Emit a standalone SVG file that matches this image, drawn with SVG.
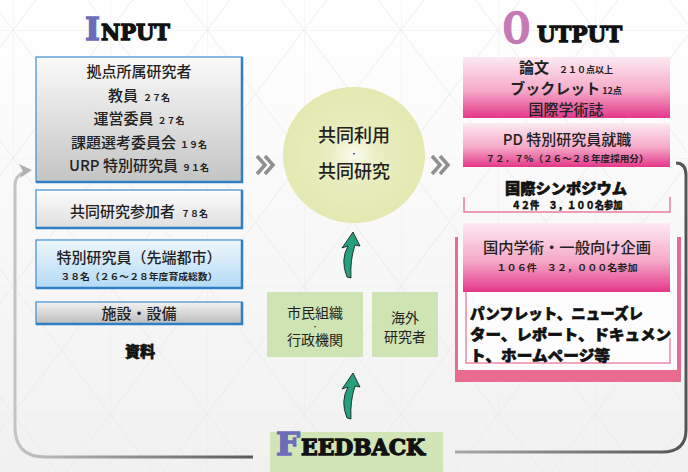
<svg xmlns="http://www.w3.org/2000/svg" width="688" height="472" viewBox="0 0 688 472">
<defs>
  <linearGradient id="bg" x1="0" y1="0" x2="0" y2="1">
    <stop offset="0" stop-color="#ffffff"/>
    <stop offset="1" stop-color="#f1f1f1"/>
  </linearGradient>
  <pattern id="grid" x="13" y="30" width="97" height="128" patternUnits="userSpaceOnUse">
    <path d="M0,0 V128 M0,0 H97 M0,0 L97,128 M0,128 L97,0" stroke="#e6e6e6" stroke-width="0.7" fill="none"/>
  </pattern>
  <linearGradient id="gGray" x1="0" y1="0" x2="0" y2="1">
    <stop offset="0" stop-color="#fafafa"/>
    <stop offset="1" stop-color="#c4c4c4"/>
  </linearGradient>
  <linearGradient id="gLight" x1="0" y1="0" x2="0" y2="1">
    <stop offset="0" stop-color="#fdfdfd"/>
    <stop offset="1" stop-color="#dedede"/>
  </linearGradient>
  <linearGradient id="gBlue" x1="0" y1="0" x2="0" y2="1">
    <stop offset="0" stop-color="#eef7fd"/>
    <stop offset="1" stop-color="#b3daf3"/>
  </linearGradient>
  <linearGradient id="gGray2" x1="0" y1="0" x2="0" y2="1">
    <stop offset="0" stop-color="#f2f2f2"/>
    <stop offset="1" stop-color="#bdbdbd"/>
  </linearGradient>
  <linearGradient id="gPink" x1="0" y1="0" x2="0" y2="1">
    <stop offset="0" stop-color="#fdeaf2"/>
    <stop offset="0.55" stop-color="#f5a9c8"/>
    <stop offset="1" stop-color="#e4378a"/>
  </linearGradient>
  <radialGradient id="gCircle" cx="0.5" cy="0.5" r="0.5">
    <stop offset="0" stop-color="#fbfbee"/>
    <stop offset="0.35" stop-color="#e9edc0"/>
    <stop offset="1" stop-color="#e3e9b0"/>
  </radialGradient>
  <linearGradient id="gLoopL" x1="0" y1="0" x2="1" y2="0">
    <stop offset="0" stop-color="#c4c4c4"/>
    <stop offset="1" stop-color="#5a5a5a"/>
  </linearGradient>
  <linearGradient id="gLoopR" x1="0" y1="0" x2="1" y2="0">
    <stop offset="0" stop-color="#a9a9a9"/>
    <stop offset="1" stop-color="#555555"/>
  </linearGradient>
  <path id="garrow" d="M15,0 L22,14 L17,13 Q12,28 13,46 L9,45 Q2,28 10,14 L4,16 Z"/>
  <path id="chev" d="M0,0 L8,9 L0,18 M8,0 L16,9 L8,18" fill="none" stroke="#8f8f8f" stroke-width="3.5"/>
  <style>
    .jp { font-family: "Noto Sans CJK JP", "Noto Sans", sans-serif; fill: #222; }
    .b15 { font-size: 15px; font-weight: 500; }
    .sm { font-size: 9px; font-weight: 700; }
    .heavy { font-family: "Noto Sans CJK JP", sans-serif; font-weight: 900; fill: #111; stroke: #111; stroke-width: 0.6; }
    .ttl { font-family: "DejaVu Serif", "Liberation Serif", serif; font-weight: 900; fill: #111; stroke: #111; stroke-width: 1.3; }
    .inb { stroke: #3b8fd2; stroke-width: 1.2; }
  </style>
</defs>

<rect width="688" height="472" fill="url(#bg)"/>
<rect width="688" height="472" fill="url(#grid)"/>

<!-- titles -->
<g id="title-input">
  <text class="ttl" x="85" y="40" font-size="32" style="fill:#6b6db8;stroke:#6b6db8" textLength="15" lengthAdjust="spacingAndGlyphs">I</text>
  <text class="ttl" x="101" y="40" font-size="22" textLength="69" lengthAdjust="spacingAndGlyphs">NPUT</text>
</g>
<g id="title-output">
  <text class="ttl" x="503" y="43" font-size="42" style="fill:#c679b6;stroke:#c679b6" textLength="27" lengthAdjust="spacingAndGlyphs">O</text>
  <text class="ttl" x="537" y="42" font-size="22" textLength="85" lengthAdjust="spacingAndGlyphs">UTPUT</text>
</g>

<!-- connectors -->
<g id="connectors">
  <path d="M253,457 L45,457 Q15,457 15,427 L15,185 Q15,176 24,172" fill="none" stroke="url(#gLoopL)" stroke-width="3"/>
  <path d="M19,164 L32,170 L20,178 L23,171 Z" fill="#b0b0b0"/>
  <path d="M455,452 L662,452 Q686,452 686,430 L686,175 Q686,163 676,163" fill="none" stroke="url(#gLoopR)" stroke-width="3"/>
  <use href="#chev" x="257" y="156"/>
  <use href="#chev" x="432" y="156"/>
  <g fill="#25a07c" stroke="#111" stroke-width="0.8">
    <use href="#garrow" x="338" y="232"/>
    <use href="#garrow" x="338" y="373"/>
  </g>
</g>

<!-- INPUT nodes -->
<g id="input-researchers">
  <rect class="inb" x="36" y="57" width="206" height="125" fill="url(#gGray)"/>
  <path d="M36,182 H242 V57" fill="none" stroke="#2f7fc4" stroke-width="2.5"/>
  <text class="jp b15" x="139" y="77" text-anchor="middle">拠点所属研究者</text>
  <text class="jp b15" x="139" y="101" text-anchor="middle">教員<tspan class="sm" dx="5">２７名</tspan></text>
  <text class="jp b15" x="139" y="124" text-anchor="middle">運営委員<tspan class="sm" dx="4">２７名</tspan></text>
  <text class="jp b15" x="139" y="148" text-anchor="middle">課題選考委員会<tspan class="sm" dx="4">１９名</tspan></text>
  <text class="jp b15" x="139" y="171" text-anchor="middle">URP 特別研究員<tspan class="sm" dx="4">９１名</tspan></text>
</g>
<g id="input-participants">
  <rect class="inb" x="36" y="190" width="206" height="38" fill="url(#gLight)"/>
  <path d="M36,228 H242 V190" fill="none" stroke="#2f7fc4" stroke-width="2.5"/>
  <text class="jp b15" x="139" y="217" text-anchor="middle">共同研究参加者<tspan class="sm" dx="6">７８名</tspan></text>
</g>
<g id="input-special">
  <rect class="inb" x="36" y="240" width="206" height="48" fill="url(#gBlue)"/>
  <path d="M36,288 H242 V240" fill="none" stroke="#2f7fc4" stroke-width="2.5"/>
  <text class="jp b15" x="139" y="263" text-anchor="middle">特別研究員（先端都市）</text>
  <text class="jp sm" x="139" y="280" text-anchor="middle" textLength="157" lengthAdjust="spacingAndGlyphs">３８名（２６～２８年度育成総数）</text>
</g>
<g id="input-facilities">
  <rect class="inb" x="36" y="302" width="206" height="22" fill="url(#gGray2)"/>
  <path d="M36,324 H242 V302" fill="none" stroke="#2f7fc4" stroke-width="2.5"/>
  <text class="jp b15" x="139" y="319" text-anchor="middle">施設・設備</text>
</g>
<g id="input-materials">
  <text class="heavy" x="140" y="357" font-size="15" text-anchor="middle">資料</text>
</g>

<!-- center -->
<g id="center">
  <ellipse cx="354" cy="155" rx="71" ry="68" fill="url(#gCircle)"/>
  <text class="jp" x="354" y="142" font-size="18" font-weight="500" text-anchor="middle">共同利用</text>
  <text class="jp" x="354" y="156" font-size="6" font-weight="900" text-anchor="middle">・</text>
  <text class="jp" x="354" y="178" font-size="18" font-weight="500" text-anchor="middle">共同研究</text>
</g>

<g id="citizens">
  <rect x="267" y="292" width="96" height="65" fill="#cfe4b3"/>
  <text class="jp" x="315" y="318" font-size="14" text-anchor="middle">市民組織</text>
  <text class="jp" x="315" y="328" font-size="5" font-weight="900" text-anchor="middle">・</text>
  <text class="jp" x="315" y="345" font-size="14" text-anchor="middle">行政機関</text>
</g>
<g id="overseas">
  <rect x="372" y="292" width="66" height="65" fill="#cfe4b3"/>
  <text class="jp" x="405" y="323" font-size="14" text-anchor="middle">海外</text>
  <text class="jp" x="405" y="342" font-size="14" text-anchor="middle">研究者</text>
</g>
<g id="feedback">
  <rect x="270" y="432" width="173" height="40" fill="#d1e5b6"/>
  <text class="ttl" x="276" y="455" font-size="32" style="fill:#6b6db8;stroke:#6b6db8" textLength="24" lengthAdjust="spacingAndGlyphs">F</text>
  <text class="ttl" x="301" y="455" font-size="22" textLength="124" lengthAdjust="spacingAndGlyphs">EEDBACK</text>
</g>

<!-- OUTPUT nodes -->
<g id="output-papers">
  <rect x="463" y="57" width="207" height="61" fill="url(#gPink)"/>
  <text class="jp" x="566" y="73" font-size="15" font-weight="700" text-anchor="middle">論文<tspan class="sm" dx="10">２１０点以上</tspan></text>
  <text class="jp" x="566" y="94" font-size="15" font-weight="700" text-anchor="middle">ブックレット<tspan class="sm" dx="2">12点</tspan></text>
  <text class="jp" x="566" y="115" font-size="15" font-weight="500" text-anchor="middle">国際学術誌</text>
</g>
<g id="output-pd">
  <rect x="463" y="123" width="207" height="44" fill="url(#gPink)"/>
  <text class="jp" x="567" y="145" font-size="15" font-weight="500" text-anchor="middle">PD 特別研究員就職</text>
  <text class="jp sm" x="567" y="162" text-anchor="middle" textLength="163" lengthAdjust="spacingAndGlyphs">７２．７％（２６～２８年度採用分）</text>
</g>
<g id="output-symposium">
  <path d="M464,197 V212 H670 V197" fill="none" stroke="#e97d9e" stroke-width="1.5"/>
  <text class="heavy" x="566" y="194" font-size="15" text-anchor="middle" textLength="122" lengthAdjust="spacingAndGlyphs">国際シンポジウム</text>
  <text class="heavy" x="567" y="209" font-size="10" text-anchor="middle" textLength="111" lengthAdjust="spacingAndGlyphs" style="stroke-width:0.3">４２件　３，１００名参加</text>
</g>
<g id="output-domestic">
  <rect x="455" y="237" width="226" height="145" fill="#ea6b90"/>
  <rect x="458" y="237" width="219" height="133" fill="#fdfdfd"/>
  <path d="M466,292 V363 H670 V338" fill="none" stroke="#ec8aa8" stroke-width="1.5"/>
  <rect x="463" y="223" width="207" height="69" fill="url(#gPink)"/>
  <text class="jp" x="567" y="253" font-size="15" font-weight="500" text-anchor="middle" textLength="168" lengthAdjust="spacingAndGlyphs">国内学術・一般向け企画</text>
  <text class="jp sm" x="567" y="271" text-anchor="middle" textLength="141" lengthAdjust="spacingAndGlyphs">１０６件　３２，０００名参加</text>
  <text class="heavy" x="470" y="319" font-size="15" textLength="173" lengthAdjust="spacingAndGlyphs">パンフレット、ニューズレ</text>
  <text class="heavy" x="470" y="340" font-size="15" textLength="201" lengthAdjust="spacingAndGlyphs">ター、レポート、ドキュメン</text>
  <text class="heavy" x="470" y="361" font-size="15" textLength="140" lengthAdjust="spacingAndGlyphs">ト、ホームページ等</text>
</g>
</svg>
